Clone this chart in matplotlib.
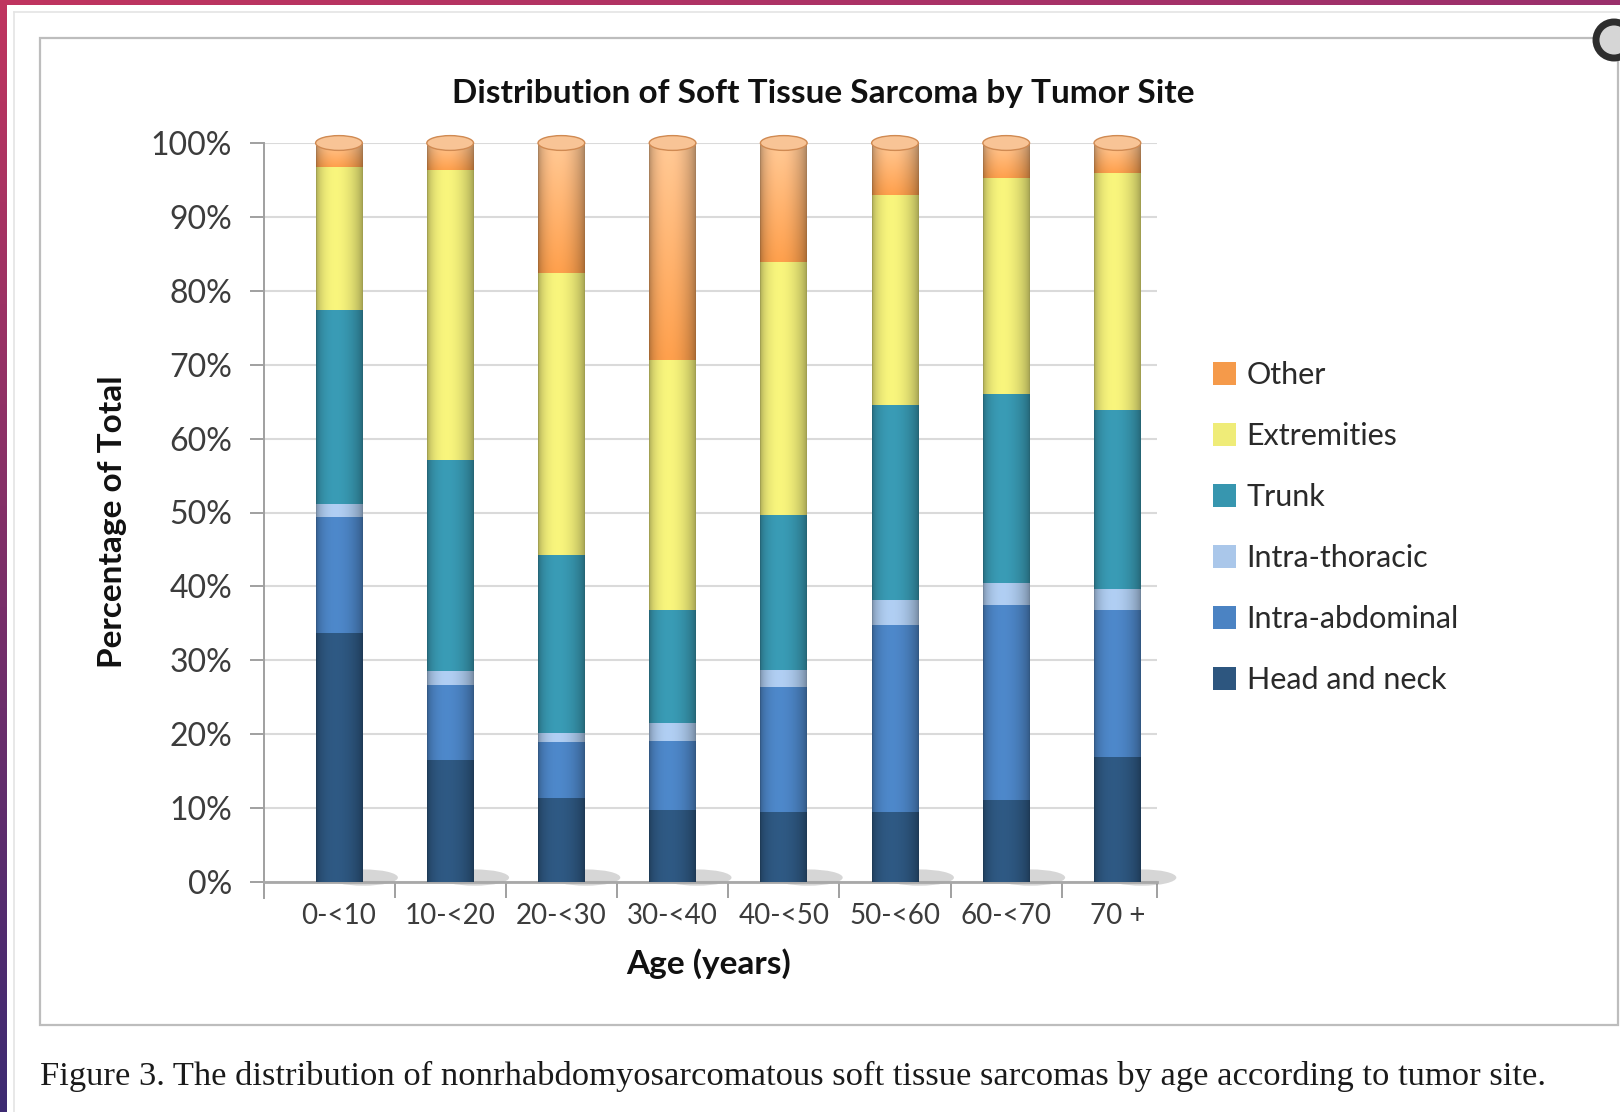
import numpy as np
import matplotlib
matplotlib.use('Agg')
import matplotlib.pyplot as plt
from matplotlib.patches import Ellipse, Rectangle
from matplotlib.colors import to_rgb

# percentage of total per tumour site, by age group
ages = ['0-<10', '10-<20', '20-<30', '30-<40', '40-<50', '50-<60', '60-<70', '70 +']
sites = ['Head and neck', 'Intra-abdominal', 'Intra-thoracic', 'Trunk', 'Extremities', 'Other']

head_neck = [33.7, 16.5, 11.3, 9.8, 9.5, 9.5, 11.1, 16.9]
intra_abdominal = [15.7, 10.2, 7.7, 9.3, 16.9, 25.3, 26.4, 19.9]
intra_thoracic = [1.8, 1.8, 1.1, 2.4, 2.3, 3.4, 2.9, 2.9]
trunk = [26.2, 28.6, 24.1, 15.3, 21.0, 26.3, 25.7, 24.2]
extremities = [19.3, 39.2, 38.2, 33.9, 34.2, 28.5, 29.1, 32.1]
other = [3.3, 3.7, 17.6, 29.3, 16.1, 7.0, 4.8, 4.0]

caption = ('Figure 3. The distribution of nonrhabdomyosarcomatous soft tissue '
           'sarcomas by age according to tumor site.')

colors = ['#2D567F', '#4B83C3', '#AAC7EA', '#3796AF', '#EFEC78', '#F59A4A']

W, H = 1620, 1112
plt.rcParams['font.family'] = ['Lato', 'DejaVu Sans']
fig = plt.figure(figsize=(W / 100, H / 100), dpi=100)
fig.patch.set_facecolor('white')


def fx(px):
    return px / W


def fy(py):
    return 1 - py / H


# page border strips
top = np.linspace(0, 1, W)
c0, c1 = np.array(to_rgb('#C0355F')), np.array(to_rgb('#9A2F6C'))
strip = c0[None, :] * (1 - top[:, None]) + c1[None, :] * top[:, None]
fig.figimage(np.tile(strip[None, :, :], (5, 1, 1)), xo=0, yo=H - 5, origin='upper', zorder=5)
side = np.linspace(0, 1, H)
c2 = np.array(to_rgb('#3C2A72'))
sstrip = c0[None, :] * (1 - side[:, None]) + c2[None, :] * side[:, None]
fig.figimage(np.tile(sstrip[:, None, :], (1, 7, 1)), xo=0, yo=0, origin='upper', zorder=5)

# page and chart frames
fig.add_artist(plt.Line2D([fx(14), fx(W)], [fy(12), fy(12)], color='#E4E4E4', lw=1.2))
fig.add_artist(plt.Line2D([fx(14), fx(14)], [fy(12), fy(H)], color='#E4E4E4', lw=1.2))
fig.add_artist(Rectangle((fx(40), fy(1025)), fx(1618) - fx(40), fy(38) - fy(1025),
                         transform=fig.transFigure, fill=False, ec='#BDBDBD', lw=1.6))
fig.add_artist(Ellipse((fx(1614), fy(40)), 36 / W, 36 / H, transform=fig.transFigure,
                       fc='#D6D6D6', ec='#2E2E2E', lw=5, zorder=6))

ax = fig.add_axes([fx(264), fy(882), fx(1157) - fx(264), fy(143) - fy(882)])
x = np.arange(len(ages))
bw = 0.42
series = [head_neck, intra_abdominal, intra_thoracic, trunk, extremities, other]


def shade(t):
    return 0.66 + 0.38 * np.sin(np.pi * np.clip(t, 0, 1) ** 0.8) ** 0.6


tt = np.linspace(0, 1, 60)
prof = shade(tt)
bottom = np.zeros(len(ages))
bars = []
for k, (vals, col) in enumerate(zip(series, colors)):
    b = ax.bar(x, vals, bw, bottom=bottom, color=col, label=sites[k], zorder=3)
    bars.append(b)
    base = np.array(to_rgb(col))
    for i, v in enumerate(vals):
        if sites[k] == 'Other':
            light = np.array(to_rgb('#FAC99C'))
            vy = np.linspace(0, 1, 40)[:, None, None]
            rgb = base * (1 - vy * 0.85) + light * vy * 0.85
            img = np.clip(rgb * prof[None, :, None], 0, 1)
        else:
            img = np.clip(base[None, None, :] * prof[None, :, None], 0, 1)
        ax.imshow(img, extent=(i - bw / 2, i + bw / 2, bottom[i], bottom[i] + v),
                  aspect='auto', origin='lower', interpolation='bilinear', zorder=3.5)
    bottom += np.array(vals)

# cylinder caps and floor shadows
for i in x:
    ax.add_patch(Ellipse((i + 0.22, 0.6), 0.62, 2.2, fc='#8A8A8A', alpha=0.35,
                         ec='none', zorder=2, clip_on=False))
    ax.add_patch(Ellipse((i, bottom[i]), bw, 2.0, fc='#F8C496', ec='#D08A52', lw=1.0,
                         zorder=4, clip_on=False))

ax.set_xlim(-0.674, 7.356)
ax.set_ylim(0, 100)
ax.set_xticks(x)
ax.set_xticklabels(ages)
ax.set_xticks(list(np.arange(0.5, 7, 1.0)) + [7.356], minor=True)
ax.set_yticks(range(0, 101, 10))
ax.set_yticklabels([f'{v}%' for v in range(0, 101, 10)])
ax.tick_params(axis='x', which='major', length=0, pad=15, labelsize=20, labelcolor='#3C3C3C')
ax.tick_params(axis='x', which='minor', length=11.5, width=1.4, color='#A0A0A0')
ax.tick_params(axis='y', length=10, width=1.4, color='#A0A0A0', pad=13,
               labelsize=23, labelcolor='#3C3C3C')
ax.yaxis.grid(True, color='#DADADA', lw=1.5, zorder=0)
ax.set_axisbelow(True)
for s in ('top', 'right'):
    ax.spines[s].set_visible(False)
ax.spines['left'].set_color('#A0A0A0')
ax.spines['left'].set_linewidth(1.4)
ax.spines['left'].set_bounds(-2.2, 100)
ax.spines['bottom'].set_color('#A8A8A8')
ax.spines['bottom'].set_linewidth(2)

fig.text(fx(823), fy(94), 'Distribution of Soft Tissue Sarcoma by Tumor Site',
         ha='center', va='center', fontsize=24, weight='bold', color='#111111')
fig.text(fx(709), fy(964), 'Age (years)', ha='center', va='center',
         fontsize=24, weight='bold', color='#111111')
fig.text(fx(113), fy(522), 'Percentage of Total', ha='center', va='center',
         rotation=90, fontsize=24, weight='bold', color='#111111')

leg = ax.legend(handles=bars[::-1], labels=sites[::-1], loc='upper left',
                bbox_to_anchor=(fx(1213), fy(361)), bbox_transform=fig.transFigure,
                frameon=False, fontsize=22, handlelength=0.75, handleheight=0.75,
                handletextpad=0.35, labelspacing=1.08, borderpad=0, borderaxespad=0)
for t in leg.get_texts():
    t.set_color('#2A2A2A')

fig.text(fx(40), fy(1076), caption, ha='left', va='center', fontsize=24.8,
         family='Liberation Serif', color='#1A1A1A')

fig.savefig('out.png', dpi=100)
